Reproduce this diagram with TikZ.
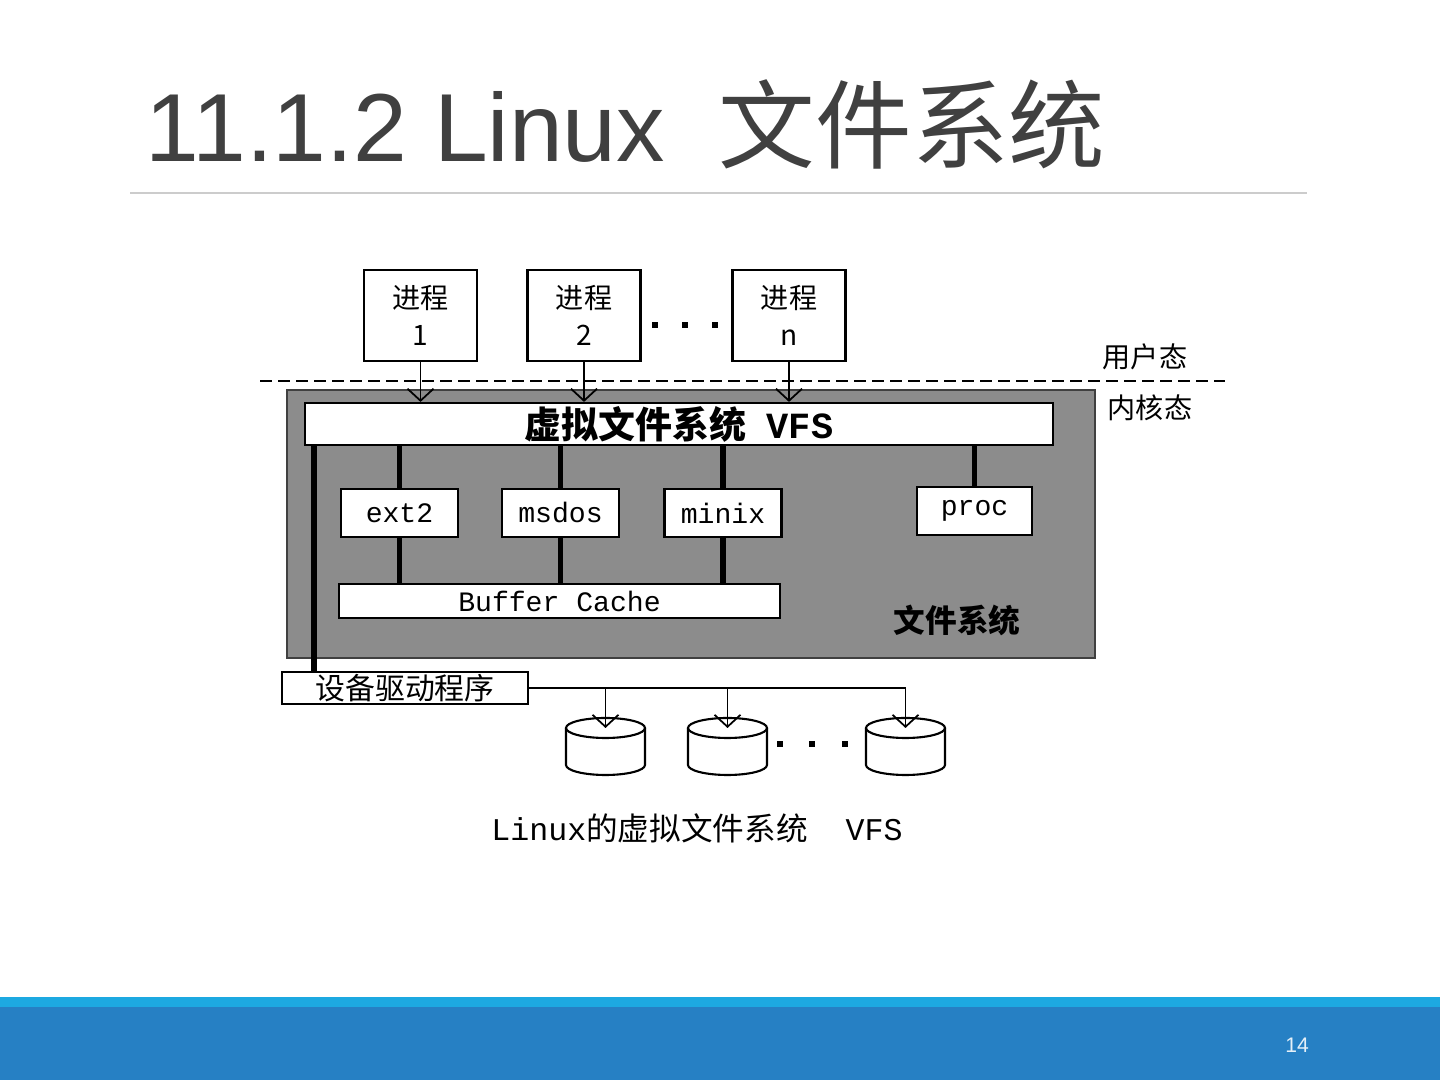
\documentclass[tikz,border=0pt]{standalone}
\usepackage{fontspec}
\setmainfont{Liberation Sans}
\setmonofont{Liberation Mono}
\newfontfamily\cjk{Noto Sans CJK SC}
\usetikzlibrary{arrows.meta}

\definecolor{titlegray}{HTML}{404040}
\definecolor{barblue}{HTML}{2680C4}
\definecolor{stripblue}{HTML}{1DA9E1}

\tikzset{
  >={Straight Barb[length=1.2mm,width=2.6mm]},
  procbox/.style={draw,line width=0.6pt,fill=white,minimum width=1.13cm,minimum height=0.91cm,
    inner sep=0,align=center,font=\cjk\fontsize{8}{10.5}\selectfont},
  fsbox/.style={draw,line width=0.6pt,fill=white,minimum width=1.17cm,minimum height=0.48cm,
    inner sep=0,font=\ttfamily\fontsize{8}{9}\selectfont},
  bus/.style={line width=1.5pt},
  link/.style={line width=0.5pt,->},
  side/.style={font=\cjk\fontsize{8}{9}\selectfont}
}

\begin{document}
\begin{tikzpicture}
\useasboundingbox (0,0) rectangle (14.4,10.8);

% slide
\fill[barblue] (0,0) rectangle (14.4,0.73);
\fill[stripblue] (0,0.73) rectangle (14.4,0.83);
\node[text=white!88!barblue,font=\fontsize{6}{7}\selectfont] (page) at (12.97,0.35) {14};
\node[anchor=base west,inner sep=0,text=titlegray,font=\fontsize{27.5}{30}\selectfont] (title) at (1.45,9.18) {11.1.2 Linux\ \ {\cjk 文件系统}};
\draw[gray!40] (1.30,8.87) -- (13.07,8.87);

% user space
\node[procbox] (p1) at (4.205,7.645) {进程\\1};
\node[procbox] (p2) at (5.84,7.645) {进程\\2};
\node[procbox] (pn) at (7.89,7.645) {进程\\n};
\foreach \x in {6.55,6.85,7.15}
  \fill (\x-0.03,7.52) rectangle (\x+0.03,7.58);

\coordinate (sepl) at (2.60,6.99);
\coordinate (sepr) at (12.25,6.99);
\draw[line width=0.5pt,dash pattern=on 1.2mm off 0.6mm] (sepl) -- (sepr);
\node[side] (user) at (11.45,7.23) {用户态};
\node[side] (kern) at (11.50,6.72) {内核态};

% kernel
\draw[fill=black!45,draw=black!75,line width=0.6pt] (2.87,4.22) rectangle (10.95,6.90);
\node[fsbox,minimum width=7.48cm,minimum height=0.42cm,font=\bfseries\fontsize{10.5}{11}\selectfont] (vfs) at (6.79,6.56) {{\cjk 虚拟文件系统}\ \ {\ttfamily VFS}};

\foreach \p in {p1,p2,pn}
  \draw[link] (\p.south) -- (\p.south |- vfs.north);

\node[fsbox] (ext2) at (3.995,5.67) {ext2};
\node[fsbox] (msdos) at (5.605,5.67) {msdos};
\node[fsbox] (minix) at (7.23,5.67) {minix};
\node[fsbox,minimum width=1.15cm] (proc) at (9.745,5.69) {proc};
\node[fsbox,minimum width=4.41cm,minimum height=0.34cm] (buf) at (5.595,4.79) {Buffer Cache};
\node[font=\cjk\bfseries\fontsize{9}{10}\selectfont] (fslabel) at (9.57,4.60) {文件系统};

\foreach \f in {ext2,msdos,minix,proc}
  \draw[bus] (vfs.south -| \f) -- (\f.north);
\foreach \f in {ext2,msdos,minix}
  \draw[bus] (\f.south) -- (\f.south |- buf.north);

% driver and disks
\node[draw,line width=0.6pt,fill=white,minimum width=2.46cm,minimum height=0.32cm,inner sep=0,
  font=\cjk\fontsize{8.5}{9}\selectfont] (drv) at (4.05,3.92) {设备驱动程序};
\coordinate (vfsleg) at ([xshift=0.1cm]vfs.south west);
\draw[bus] (vfsleg) -- (vfsleg |- drv.north);

\foreach \x [count=\i] in {6.055,7.275,9.055}{
  \draw[line width=0.6pt] (\x-0.395,3.52) -- (\x-0.395,3.15)
    arc[start angle=180,end angle=360,x radius=0.395,y radius=0.1] -- (\x+0.395,3.52);
  \draw[line width=0.6pt] (\x,3.52) ellipse[x radius=0.395,y radius=0.1];
  \coordinate (disk\i) at (\x,3.52);
}
\foreach \x in {7.80,8.12,8.45}
  \fill (\x-0.03,3.33) rectangle (\x+0.03,3.39);

\draw[line width=0.5pt] (drv.east) -- (drv.east -| disk3);
\foreach \d in {disk1,disk2,disk3}
  \draw[link] (drv.east -| \d) -- (\d);

\node[font=\fontsize{9}{10}\selectfont] (caption) at (6.97,2.52) {{\ttfamily Linux}{\cjk 的虚拟文件系统}{\ttfamily\ \ VFS}};

\end{tikzpicture}
\end{document}
